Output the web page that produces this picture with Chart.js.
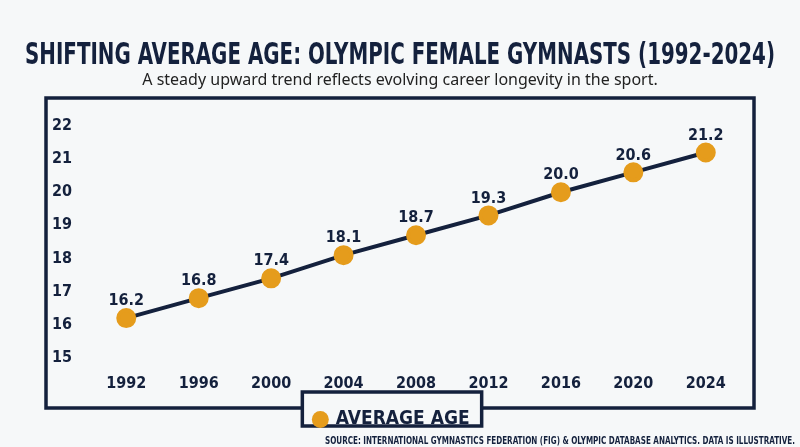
<!DOCTYPE html>
<html>
<head>
<meta charset="utf-8">
<script src="https://cdn.jsdelivr.net/npm/chart.js@4"></script>
<style>
  html, body { margin: 0; padding: 0; background: #f6f8f9; }
  #wrap { width: 800px; height: 447px; }
</style>
</head>
<body>
<div id="wrap"><canvas id="ageChart"></canvas></div>
<script>
var years = ['1992', '1996', '2000', '2004', '2008', '2012', '2016', '2020', '2024'];
var avgAge = [16.2, 16.8, 17.4, 18.1, 18.7, 19.3, 20.0, 20.6, 21.2];
var yTicks = [15, 16, 17, 18, 19, 20, 21, 22];

var navy = '#14213d';
var gold = '#e59c1c';
var cond = '"Liberation Sans Narrow", "DejaVu Sans Condensed", sans-serif';

// frame, titles, point labels and footer
var decor = {
    id: 'decor',
    beforeDraw: function (chart) {
        var c = chart.ctx;
        c.save();
        c.fillStyle = '#f6f8f9';
        c.fillRect(0, 0, chart.width, chart.height);
        c.strokeStyle = navy;
        c.lineWidth = 3.5;
        c.strokeRect(46, 98, 708, 310);

        // legend box sitting on the frame
        var hb = chart.legend.legendHitBoxes[0];
        if (hb) {
            var bx = hb.left - 12, bw = hb.width + 24;
            c.fillStyle = '#f6f8f9';
            c.fillRect(bx, 392, bw, 34);
            c.strokeRect(bx, 392, bw, 34);
        }

        c.textAlign = 'center';
        c.fillStyle = navy;
        c.font = 'bold 30px ' + cond;
        c.fillText('SHIFTING AVERAGE AGE: OLYMPIC FEMALE GYMNASTS (1992-2024)', 400, 56, 750);
        c.fillStyle = '#222';
        c.font = '16px "Noto Sans", sans-serif';
        c.fillText('A steady upward trend reflects evolving career longevity in the sport.', 400, 80);
        c.textAlign = 'right';
        c.fillStyle = navy;
        c.font = 'bold 10px ' + cond;
        c.fillText('SOURCE: INTERNATIONAL GYMNASTICS FEDERATION (FIG) & OLYMPIC DATABASE ANALYTICS. DATA IS ILLUSTRATIVE.', 795, 441, 470);
        c.restore();
    },
    afterDatasetsDraw: function (chart) {
        var c = chart.ctx;
        var meta = chart.getDatasetMeta(0);
        c.save();
        c.fillStyle = navy;
        c.textAlign = 'center';
        c.font = 'bold 16px ' + cond;
        meta.data.forEach(function (pt, i) {
            c.fillText(avgAge[i].toFixed(1), pt.x, pt.y - 17);
        });
        c.restore();
    }
};

var ctx = document.getElementById('ageChart').getContext('2d');
var chart = new Chart(ctx, {
    type: 'line',
    data: {
        labels: years,
        datasets: [{
            label: 'AVERAGE AGE',
            data: avgAge,
            borderColor: navy,
            borderWidth: 4,
            backgroundColor: gold,
            pointBackgroundColor: gold,
            pointBorderColor: gold,
            pointRadius: 8,
            pointHoverRadius: 8,
            tension: 0
        }]
    },
    options: {
        responsive: true,
        maintainAspectRatio: false,
        animation: false,
        layout: { padding: { top: 126, left: 42, right: 58, bottom: 8 } },
        plugins: {
            tooltip: { enabled: false },
            legend: {
                position: 'bottom',
                labels: {
                    usePointStyle: true,
                    pointStyle: 'circle',
                    boxWidth: 12,
                    boxHeight: 12,
                    padding: 9,
                    color: navy,
                    font: { family: cond, size: 19, weight: 'bold' },
                    generateLabels: function (ch) {
                        var items = Chart.defaults.plugins.legend.labels.generateLabels(ch);
                        items.forEach(function (it) { it.strokeStyle = gold; it.lineWidth = 0; });
                        return items;
                    }
                }
            }
        },
        scales: {
            x: {
                offset: true,
                grid: { display: false },
                border: { display: false },
                ticks: { color: navy, padding: 8, font: { family: cond, size: 16, weight: 'bold' } }
            },
            y: {
                min: 15,
                max: 22,
                afterBuildTicks: function (axis) {
                    axis.ticks = yTicks.map(function (v) { return { value: v }; });
                },
                grid: { display: false },
                border: { display: false },
                ticks: { color: navy, padding: 10, font: { family: cond, size: 16, weight: 'bold' } }
            }
        }
    },
    plugins: [decor]
});
</script>
</body>
</html>
